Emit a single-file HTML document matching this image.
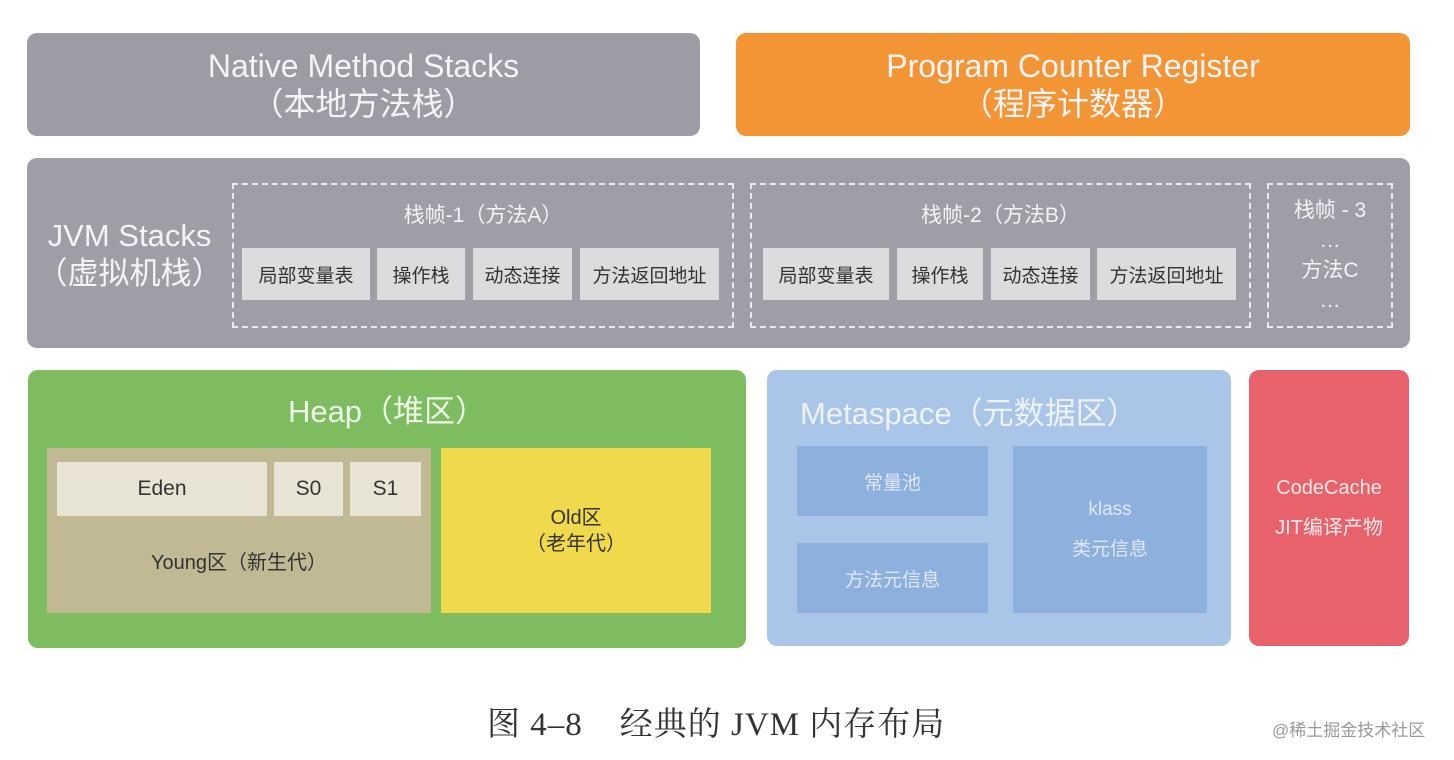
<!DOCTYPE html>
<html><head><meta charset="utf-8"><style>
body{margin:0;width:1454px;height:760px;background:#fff;position:relative;overflow:hidden;font-family:"Liberation Sans","Noto Sans CJK SC",sans-serif}
div{position:absolute;box-sizing:border-box}
.c{display:flex;align-items:center;justify-content:center;text-align:center;flex-direction:column}
.w{color:#f4f4f6}
.b{background:#dcdcdf;color:#333;font-size:19px}
.d{border:2px dashed #eceaf0}
.m{background:#8eb0dd;color:#dfe8f5;font-size:19px}
</style></head><body>
<div class="c w" style="left:27px;top:33px;width:673px;height:103px;background:#9c9ca5;border-radius:10px;font-size:32px;line-height:38px">Native Method Stacks<br>（本地方法栈）</div>
<div class="c w" style="left:736px;top:33px;width:674px;height:103px;background:#f39535;border-radius:10px;font-size:32px;line-height:38px">Program Counter Register<br>（程序计数器）</div>

<div style="left:27px;top:158px;width:1383px;height:190px;background:#9e9ea7;border-radius:10px"></div>
<div class="c w" style="left:27px;top:215px;width:205px;height:80px;font-size:31px;line-height:38px">JVM Stacks<br>（虚拟机栈）</div>
<div class="d" style="left:232px;top:183px;width:502px;height:145px"></div>
<div class="c w" style="left:232px;top:196px;width:502px;height:36px;font-size:21px">栈帧-1（方法A）</div>
<div class="c b" style="left:242px;top:248px;width:128px;height:52px">局部变量表</div>
<div class="c b" style="left:377px;top:248px;width:88px;height:52px">操作栈</div>
<div class="c b" style="left:473px;top:248px;width:99px;height:52px">动态连接</div>
<div class="c b" style="left:580px;top:248px;width:139px;height:52px">方法返回地址</div>
<div class="d" style="left:750px;top:183px;width:501px;height:145px"></div>
<div class="c w" style="left:750px;top:196px;width:501px;height:36px;font-size:21px">栈帧-2（方法B）</div>
<div class="c b" style="left:763px;top:248px;width:126px;height:52px">局部变量表</div>
<div class="c b" style="left:897px;top:248px;width:86px;height:52px">操作栈</div>
<div class="c b" style="left:991px;top:248px;width:99px;height:52px">动态连接</div>
<div class="c b" style="left:1097px;top:248px;width:139px;height:52px">方法返回地址</div>
<div class="d" style="left:1267px;top:183px;width:126px;height:145px"></div>
<div class="c w" style="left:1267px;top:196px;width:126px;height:120px;font-size:21px;line-height:30px">栈帧 - 3<br>…<br>方法C<br>…</div>

<div style="left:28px;top:370px;width:718px;height:278px;background:#7dbd5f;border-radius:10px"></div>
<div class="c" style="left:28px;top:388px;width:718px;height:40px;color:#eef6e8;font-size:31px">Heap（堆区）</div>
<div style="left:47px;top:448px;width:384px;height:165px;background:#c0b993"></div>
<div class="c" style="left:57px;top:462px;width:210px;height:54px;background:#e8e4d4;color:#333;font-size:21px">Eden</div>
<div class="c" style="left:274px;top:462px;width:69px;height:54px;background:#e8e4d4;color:#333;font-size:21px">S0</div>
<div class="c" style="left:350px;top:462px;width:71px;height:54px;background:#e8e4d4;color:#333;font-size:21px">S1</div>
<div class="c" style="left:47px;top:540px;width:384px;height:40px;color:#333;font-size:20px">Young区（新生代）</div>
<div class="c" style="left:441px;top:448px;width:270px;height:165px;background:#f1d94c;color:#333;font-size:20px;line-height:26px">Old区<br>（老年代）</div>

<div style="left:767px;top:370px;width:464px;height:276px;background:#a9c5e7;border-radius:10px"></div>
<div style="left:800px;top:388px;width:420px;height:44px;color:#eef3fa;font-size:31px;display:flex;align-items:center">Metaspace（元数据区）</div>
<div class="c m" style="left:797px;top:446px;width:191px;height:70px">常量池</div>
<div class="c m" style="left:797px;top:543px;width:191px;height:70px">方法元信息</div>
<div class="c m" style="left:1013px;top:446px;width:194px;height:167px;line-height:40px">klass<br>类元信息</div>

<div class="c" style="left:1249px;top:370px;width:160px;height:276px;background:#e8626b;border-radius:10px;color:#fbe8e8;font-size:20px;line-height:40px;padding-bottom:0px">CodeCache<br>JIT编译产物</div>

<div style="left:487px;top:698px;width:520px;height:40px;font-family:'Liberation Serif','Noto Serif CJK SC',serif;font-size:33px;letter-spacing:1px;color:#333;white-space:pre">图 4–8    经典的 JVM 内存布局</div>
<div style="left:1272px;top:716px;width:175px;height:24px;font-size:17px;color:#999;white-space:nowrap">@稀土掘金技术社区</div>
</body></html>
